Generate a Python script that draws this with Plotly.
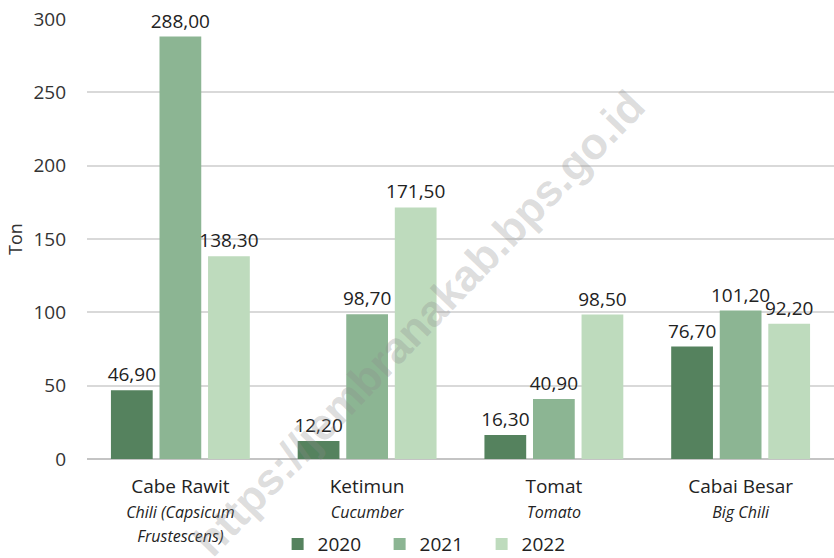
import plotly.graph_objects as go

main_labels = ["Cabe Rawit", "Ketimun", "Tomat", "Cabai Besar"]
sub_labels = ["Chili (Capsicum<br>Frustescens)", "Cucumber", "Tomato", "Big Chili"]
years = ["2020", "2021", "2022"]
v2020 = [46.9, 12.2, 16.3, 76.7]
v2021 = [288.0, 98.7, 40.9, 101.2]
v2022 = [138.3, 171.5, 98.5, 92.2]
colors = ["#55825e", "#8cb593", "#bedbbd"]

categories = [f"{m}<br><i><span style='font-size:16px'>{s}</span></i>"
              for m, s in zip(main_labels, sub_labels)]

def fmt(v):
    return f"{v:.2f}".replace(".", ",")

fig = go.Figure()
for name, vals, col in zip(years, [v2020, v2021, v2022], colors):
    fig.add_trace(go.Bar(
        x=categories, y=vals, name=name, marker_color=col,
        marker_line_width=0,
        text=[fmt(v) for v in vals], textposition="outside",
        constraintext="none",
        textfont=dict(size=19, color="#222222"), cliponaxis=False,
    ))

fig.update_layout(
    width=834, height=558,
    margin=dict(l=87, r=0, t=19, b=99),
    plot_bgcolor="white", paper_bgcolor="white",
    font=dict(family="Open Sans", size=18, color="#333333"),
    barmode="group", bargap=0.22, bargroupgap=0.14,
    showlegend=True,
    legend=dict(orientation="h", x=0.46, xanchor="center", y=0.025, yanchor="middle",
                yref="container",
                font=dict(size=19, color="#222222"), itemwidth=30,
                entrywidth=57, entrywidthmode="pixels"),
    xaxis=dict(showgrid=False, showline=False, ticks="", automargin=False,
               ticklabelstandoff=14, tickfont=dict(size=19, color="#222222")),
    yaxis=dict(range=[0, 300], dtick=50, showgrid=True, gridcolor="#d9d9d9", gridwidth=2,
               zeroline=True, zerolinecolor="#c4c4c4", zerolinewidth=2, automargin=False,
               ticks="", ticklabelstandoff=20, tickfont=dict(size=19, color="#333333")),
)

fig.add_annotation(
    text="Ton", x=0, xref="paper", xshift=-72, y=0.5, yref="paper",
    textangle=-90, showarrow=False, xanchor="center", yanchor="middle",
    font=dict(size=18, color="#333333"),
)

fig.add_annotation(
    text="<b>https://jembranakab.bps.go.id</b>", x=0.445, y=0.31, xref="paper", yref="paper",
    xanchor="center", yanchor="middle",
    textangle=-46, showarrow=False,
    font=dict(size=44, color="rgba(140,140,140,0.3)", family="Liberation Sans"),
)

fig.write_html("out.html", config={"displayModeBar": False},
               post_script="document.body.style.margin='0';")
